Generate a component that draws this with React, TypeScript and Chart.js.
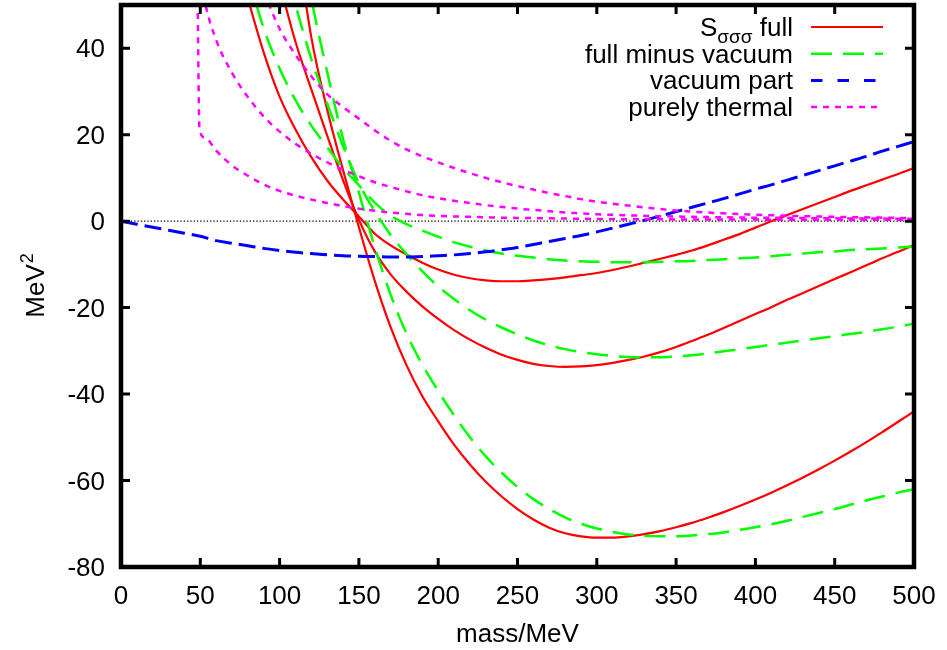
import React, { useEffect, useRef } from 'react';
import { Chart, registerables } from 'chart.js';

Chart.register(...registerables);

// ---------- data ----------
const mass = [0, 10, 20, 30, 40, 50, 60, 70, 80, 90, 100, 110, 120, 130, 140, 150, 160, 170, 180, 190, 200, 210, 220, 230, 240, 250, 260, 270, 280, 290, 300, 310, 320, 330, 340, 350, 360, 370, 380, 390, 400, 410, 420, 430, 440, 450, 460, 470, 480, 490, 500];

const xTicks = [0, 50, 100, 150, 200, 250, 300, 350, 400, 450, 500];
const yTicks = [-80, -60, -40, -20, 0, 20, 40];

// vacuum part (starts at 0 MeV)
const vacuum = [0, -0.7, -1.4, -2.1, -2.8, -3.5, -4.5, -5.1, -5.7, -6.3,
  -6.8, -7.2, -7.5, -7.8, -8.0, -8.1, -8.2, -8.3, -8.3, -8.2,
  -8.0, -7.8, -7.5, -7.1, -6.6, -6.1, -5.4, -4.7, -4.0, -3.3,
  -2.5, -1.6, -0.7, 0.2, 1.2, 2.2, 3.2, 4.2, 5.2, 6.3,
  7.4, 8.4, 9.5, 10.6, 11.7, 12.8, 13.9, 15.0, 16.2, 17.3, 18.4];

// full S (three temperatures); each list ends at 500 MeV
const fullA = [65, 51.5, 39, 28.8, 21.2, 14.8, 9.4, 5, 1.1, -2.9,
  -5.6, -7.7, -9.6, -11.2, -12.4, -13.2, -13.7, -13.9, -13.9, -13.7,
  -13.4, -13.0, -12.5, -12.0, -11.3, -10.5, -9.6, -8.7, -7.8, -6.8,
  -5.6, -4.3, -3.0, -1.5, 0.0, 1.4, 2.8, 4.2, 5.6, 7.0,
  8.3, 9.6, 10.9, 12.3];
const fullB = [55, 41.5, 30.5, 19.8, 9.5, 0.3, -7.0, -12.3, -16.3, -19.7,
  -22.6, -25.2, -27.4, -29.3, -30.9, -32.1, -33.0, -33.5, -33.7, -33.6,
  -33.3, -32.8, -32.1, -31.3, -30.3, -29.1, -27.7, -26.3, -24.7, -23.1,
  -21.5, -19.9, -18.2, -16.6, -15.0, -13.4, -11.8, -10.2, -8.6, -7.1, -5.5];
const fullC = [67, 42.5, 25.8, 11.8, -1.4, -13.8, -24.5, -33.3, -40.5,
  -46.3, -51.7, -56.3, -60.3, -63.7, -66.6, -69.0, -70.9, -72.2, -72.9,
  -73.2, -73.2, -72.9, -72.4, -71.7, -70.8, -69.8, -68.6, -67.3, -65.9,
  -64.4, -62.8, -61.1, -59.3, -57.4, -55.4, -53.3, -51.1, -48.8, -46.4, -44.0];

// full minus vacuum
const minusVacA = [57, 44.6, 35.3, 28, 22.1, 17.1, 12.3, 8.3, 4.3, 1.3,
  -0.7, -2.2, -3.6, -4.9, -5.9, -6.8, -7.5, -8.0, -8.4, -8.8,
  -9.1, -9.3, -9.4, -9.5, -9.5, -9.5, -9.4, -9.3, -9.2, -9.0,
  -8.8, -8.6, -8.4, -8.1, -7.8, -7.5, -7.2, -7.0, -6.7, -6.5, -6.3, -6.1, -5.9];
const minusVacB = [63, 50, 37.5, 27.2, 17.4, 8.8, 2.3, -3.2, -7.6, -11.6,
  -15.1, -18, -20.6, -22.8, -24.6, -26.2, -27.6, -28.7, -29.6, -30.3,
  -30.8, -31.2, -31.4, -31.5, -31.5, -31.3, -31.0, -30.6, -30.1, -29.6,
  -29.1, -28.6, -28.1, -27.6, -27.1, -26.6, -26.1, -25.6, -25.0, -24.4, -23.7];
const minusVacC = [72, 51.5, 34.5, 19, 6.6, -6, -17, -26, -33.2,
  -39.3, -44.9, -50, -54.4, -58.2, -61.5, -64.3, -66.6, -68.5, -70.0,
  -71.1, -71.9, -72.5, -72.8, -72.9, -72.9, -72.7, -72.4, -72.0, -71.4,
  -70.8, -70.1, -69.3, -68.4, -67.5, -66.6, -65.6, -64.6, -63.7, -62.8, -62.0];

// purely thermal
const thermalMass = [48, 49.5, 53, 60, 70, 80, 90, 100, 110, 120, 130, 140, 150, 160, 170, 180, 190, 200, 210, 220, 230, 240, 250, 260, 270, 280, 290, 300, 320, 340, 360, 380, 400, 420, 450, 500];
const thermalLow = [62, 21.2, 19.3, 16.3, 12.9, 10.5, 8.5, 7.0, 5.9, 5.0,
  4.2, 3.5, 2.9, 2.4, 2.0, 1.7, 1.4, 1.2, 1.1, 1.0,
  0.9, 0.8, 0.75, 0.7, 0.65, 0.6, 0.55, 0.5, 0.45, 0.42,
  0.4, 0.38, 0.36, 0.34, 0.32, 0.3];
const thermalMid = [null, 58, 50.5, 41.9, 34.3, 28.7, 24.2, 20.7, 17.9, 15.6,
  13.6, 11.9, 10.4, 9.0, 7.9, 6.9, 6.0, 5.3, 4.7, 4.2,
  3.7, 3.3, 2.9, 2.6, 2.3, 2.0, 1.8, 1.6, 1.35, 1.15,
  1.0, 0.9, 0.8, 0.75, 0.65, 0.55];
const thermalHigh = [null, null, null, null, null, null, 53, 44.5, 38.5, 33.5,
  29.4, 26.4, 23.7, 21.0, 18.6, 16.6, 15.0, 13.6, 12.3, 11.1,
  10.0, 9.0, 8.1, 7.3, 6.5, 5.8, 5.1, 4.5, 3.6, 2.8,
  2.2, 1.8, 1.5, 1.25, 1.0, 0.7];

const zeroMass = [0, 500];
const zeroLine = [0, 0];

const legendSymbol = 'S';
const legendSubscript = 'σσσ';
const legendLabels = ['full', 'full minus vacuum', 'vacuum part', 'purely thermal'];
const xTitle = 'mass/MeV';
const yTitle = 'MeV';
const yTitleSup = '2';

// ---------- styles ----------
const FONT = '"Liberation Sans", Arial, Helvetica, sans-serif';
const RED = '#ff0000';
const GREEN = '#00ff00';
const BLUE = '#0000ff';
const MAGENTA = '#ff00ff';

const pair = (xs: number[], ys: (number | null)[]) => xs.map((x, i) => ({ x, y: ys[i] }));
const tail = (ys: number[]) => pair(mass.slice(mass.length - ys.length), ys);

const line = (data: any[], color: string, width: number, dash: number[], order: number) => ({
  data,
  borderColor: color,
  backgroundColor: color,
  borderWidth: width,
  borderDash: dash,
  pointRadius: 0,
  fill: false,
  cubicInterpolationMode: 'monotone' as const,
  spanGaps: false,
  order,
});

const legendRows = [
  { color: RED, dash: [] as number[], width: 2.2 },
  { color: GREEN, dash: [21, 11], width: 2.5 },
  { color: BLUE, dash: [11.5, 15], width: 3 },
  { color: MAGENTA, dash: [6, 6], width: 2.5 },
];

const decor = {
  id: 'decor',
  afterDraw(chart: any) {
    const { ctx, chartArea: a, scales } = chart;
    const xs = scales.x;
    const ys = scales.y;
    ctx.save();
    ctx.strokeStyle = '#000';
    ctx.fillStyle = '#000';
    ctx.setLineDash([]);
    // ticks (mirrored, inward)
    const tl = 9;
    ctx.lineWidth = 3;
    ctx.beginPath();
    for (const v of xTicks) {
      const px = xs.getPixelForValue(v);
      ctx.moveTo(px, a.bottom); ctx.lineTo(px, a.bottom - tl);
      ctx.moveTo(px, a.top); ctx.lineTo(px, a.top + tl);
    }
    for (const v of yTicks) {
      const py = ys.getPixelForValue(v);
      ctx.moveTo(a.left, py); ctx.lineTo(a.left + tl, py);
      ctx.moveTo(a.right, py); ctx.lineTo(a.right - tl, py);
    }
    ctx.stroke();
    // frame
    ctx.lineWidth = 4.5;
    ctx.strokeRect(a.left, a.top, a.right - a.left, a.bottom - a.top);

    // x title
    ctx.font = `26px ${FONT}`;
    ctx.textAlign = 'center';
    ctx.textBaseline = 'alphabetic';
    ctx.fillText(xTitle, (a.left + a.right) / 2, 642);

    // y title with superscript
    ctx.save();
    ctx.translate(44, (a.top + a.bottom) / 2);
    ctx.rotate(-Math.PI / 2);
    ctx.font = `26px ${FONT}`;
    const w1 = ctx.measureText(yTitle).width;
    ctx.font = `18px ${FONT}`;
    const w2 = ctx.measureText(yTitleSup).width;
    const start = -(w1 + w2) / 2;
    ctx.textAlign = 'left';
    ctx.font = `26px ${FONT}`;
    ctx.fillText(yTitle, start, 0);
    ctx.font = `18px ${FONT}`;
    ctx.fillText(yTitleSup, start + w1 + 1, -11);
    ctx.restore();

    // legend
    const textRight = 793;
    const lx0 = 811;
    const lx1 = 883;
    legendRows.forEach((r, i) => {
      const ly = 27 + i * 26.7;
      const base = ly + 9;
      ctx.textAlign = 'right';
      ctx.font = `26px ${FONT}`;
      ctx.fillText(legendLabels[i], textRight, base);
      if (i === 0) {
        const wf = ctx.measureText(legendLabels[0]).width;
        const sp = ctx.measureText(' ').width;
        const subEnd = textRight - wf - sp;
        ctx.font = `19px ${FONT}`;
        ctx.fillText(legendSubscript, subEnd, base + 7);
        const wsub = ctx.measureText(legendSubscript).width;
        ctx.font = `26px ${FONT}`;
        ctx.fillText(legendSymbol, subEnd - wsub, base);
      }
      ctx.save();
      ctx.strokeStyle = r.color;
      ctx.lineWidth = r.width;
      ctx.setLineDash(r.dash);
      ctx.beginPath();
      ctx.moveTo(lx0, ly);
      ctx.lineTo(lx1, ly);
      ctx.stroke();
      ctx.restore();
    });
    ctx.restore();
  },
};

export default function App() {
  const ref = useRef<HTMLCanvasElement>(null);
  useEffect(() => {
    const canvas = ref.current;
    if (!canvas) return;
    const tickFont = { family: FONT, size: 26 };
    const chart = new Chart(canvas, {
      type: 'line',
      data: {
        datasets: [
          { ...line(pair(zeroMass, zeroLine), '#000', 1.3, [1.3, 2], 10), cubicInterpolationMode: 'default', tension: 0 } as any,
          line(tail(fullA), RED, 2.2, [], 8),
          line(tail(fullB), RED, 2.2, [], 8),
          line(tail(fullC), RED, 2.2, [], 8),
          line(tail(minusVacA), GREEN, 2.5, [21, 11], 6),
          line(tail(minusVacB), GREEN, 2.5, [21, 11], 6),
          line(tail(minusVacC), GREEN, 2.5, [21, 11], 6),
          line(tail(vacuum), BLUE, 3, [17, 7], 4),
          line(pair(thermalMass, thermalLow), MAGENTA, 2.5, [6, 6], 2),
          line(pair(thermalMass, thermalMid), MAGENTA, 2.5, [6, 6], 2),
          line(pair(thermalMass, thermalHigh), MAGENTA, 2.5, [6, 6], 2),
        ],
      },
      options: {
        responsive: false,
        animation: false,
        devicePixelRatio: 1,
        events: [],
        layout: { padding: { top: 5, right: 33, left: 0, bottom: 0 } },
        plugins: {
          legend: { display: false },
          tooltip: { enabled: false },
          title: { display: false },
        },
        scales: {
          x: {
            type: 'linear',
            min: 0,
            max: 500,
            grid: { display: false, drawTicks: false },
            border: { display: false },
            afterBuildTicks: (s: any) => { s.ticks = xTicks.map((v) => ({ value: v })); },
            afterFit: (s: any) => { s.height = 83; s.paddingLeft = 0; s.paddingRight = 0; },
            ticks: {
              font: tickFont,
              color: '#000',
              padding: 14,
              maxRotation: 0,
              autoSkip: false,
              callback: (v: any) => String(v),
            },
          },
          y: {
            type: 'linear',
            min: -80,
            max: 50,
            grid: { display: false, drawTicks: false },
            border: { display: false },
            afterBuildTicks: (s: any) => { s.ticks = yTicks.map((v) => ({ value: v })); },
            afterFit: (s: any) => { s.width = 121; s.paddingTop = 0; s.paddingBottom = 0; },
            ticks: {
              font: tickFont,
              color: '#000',
              padding: 16,
              labelOffset: 2,
              autoSkip: false,
              callback: (v: any) => String(v),
            },
          },
        },
      } as any,
      plugins: [decor],
    });
    return () => chart.destroy();
  }, []);
  return (
    <div style={{ position: 'absolute', left: 0, top: 0, width: 947, height: 650, background: '#fff' }}>
      <canvas ref={ref} width={947} height={650} style={{ display: 'block', width: 947, height: 650 }} />
    </div>
  );
}
